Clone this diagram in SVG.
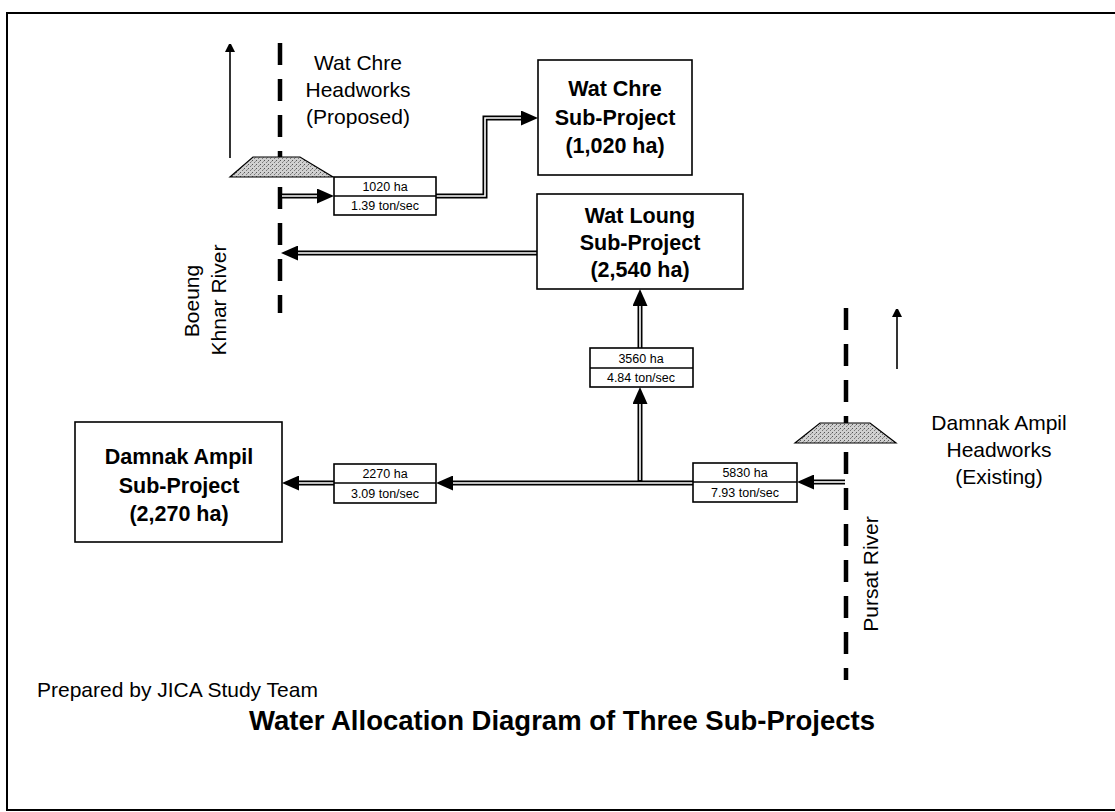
<svg xmlns="http://www.w3.org/2000/svg" width="1115" height="812" viewBox="0 0 1115 812">
<style>
.lbl{font-family:"Liberation Sans",Arial,sans-serif;font-size:21px;fill:#000}
.bold{font-family:"Liberation Sans",Arial,sans-serif;font-size:21.5px;font-weight:bold;fill:#000}
.small{font-family:"Liberation Sans",Arial,sans-serif;font-size:12.5px;fill:#000}
.box{fill:#fff;stroke:#000;stroke-width:1.6}
.river{stroke:#000;stroke-width:4.5;stroke-dasharray:22 14;fill:none}
.outer{fill:none;stroke:#000;stroke-width:5;stroke-linejoin:miter}
.inner{fill:none;stroke:#fff;stroke-width:1.6;stroke-linejoin:miter}
.dam{fill:url(#stipple);stroke:#000;stroke-width:1.2}
.north{stroke:#000;stroke-width:1.6;fill:none}
</style>
<defs>
<pattern id="stipple" width="4" height="4" patternUnits="userSpaceOnUse">
<rect width="4" height="4" fill="#d0d0d0"/>
<rect x="0" y="0" width="1" height="1" fill="#555"/>
<rect x="2" y="2" width="1" height="1" fill="#777"/>
<rect x="3" y="1" width="1" height="1" fill="#999"/>
</pattern>
<marker id="head" viewBox="0 0 17 15" refX="0" refY="7.5" markerWidth="17" markerHeight="15" markerUnits="userSpaceOnUse" orient="auto">
<path d="M0,0 L17,7.5 L0,15 z" fill="#000"/>
</marker>
<marker id="nhead" viewBox="0 0 8 10" refX="0" refY="5" markerWidth="8" markerHeight="10" markerUnits="userSpaceOnUse" orient="auto">
<path d="M0,0 L10,5 L0,10 z" fill="#000"/>
</marker>
</defs>
<rect width="1115" height="812" fill="#fff"/>
<rect x="7" y="13" width="1120" height="797" fill="none" stroke="#000" stroke-width="2"/>

<g id="boeung-khnar-river">
<line class="river" x1="280" y1="43" x2="280" y2="313"/>
<line class="north" x1="230" y1="158" x2="230" y2="52" marker-end="url(#nhead)"/>
<text class="lbl" text-anchor="middle" transform="translate(199,301) rotate(-90)">Boeung</text>
<text class="lbl" text-anchor="middle" transform="translate(226,300) rotate(-90)">Khnar River</text>
</g>

<g id="pursat-river">
<line class="river" x1="846" y1="308" x2="846" y2="680"/>
<line class="north" x1="897" y1="369" x2="897" y2="317" marker-end="url(#nhead)"/>
<text class="lbl" text-anchor="middle" transform="translate(878,574) rotate(-90)">Pursat River</text>
</g>

<g id="wat-chre-headworks">
<polygon class="dam" points="253,157 300,157 333,177 230,177"/>
<text class="lbl" text-anchor="middle" x="358" y="70">Wat Chre</text>
<text class="lbl" text-anchor="middle" x="358" y="97">Headworks</text>
<text class="lbl" text-anchor="middle" x="358" y="124">(Proposed)</text>
</g>

<g id="damnak-ampil-headworks">
<polygon class="dam" points="820,423 870,423 896,443 795,443"/>
<text class="lbl" text-anchor="middle" x="999" y="430">Damnak Ampil</text>
<text class="lbl" text-anchor="middle" x="999" y="457">Headworks</text>
<text class="lbl" text-anchor="middle" x="999" y="484">(Existing)</text>
</g>

<g id="connectors">
<path class="outer" d="M282,196 H317" marker-end="url(#head)"/>
<path class="inner" d="M282,196 H317"/>
<path class="outer" d="M436,196 H485 V118 H521" marker-end="url(#head)"/>
<path class="inner" d="M436,196 H485 V118 H521"/>
<path class="outer" d="M537,253 H298" marker-end="url(#head)"/>
<path class="inner" d="M537,253 H298"/>
<path class="outer" d="M845,482 H814" marker-end="url(#head)"/>
<path class="inner" d="M845,482 H814"/>
<path class="outer" d="M693,483 H453" marker-end="url(#head)"/>
<path class="inner" d="M693,483 H453"/>
<path class="outer" d="M334,483 H299" marker-end="url(#head)"/>
<path class="inner" d="M334,483 H299"/>
<path class="outer" d="M640,481 V404" marker-end="url(#head)"/>
<path class="inner" d="M640,480 V404"/>
<path class="outer" d="M640,348 V306" marker-end="url(#head)"/>
<path class="inner" d="M640,348 V306"/>
</g>

<g id="flow-wat-chre">
<rect class="box" x="334" y="177" width="102" height="38"/>
<line x1="334" y1="196" x2="436" y2="196" stroke="#000" stroke-width="1.4"/>
<text class="small" text-anchor="middle" x="385" y="191">1020 ha</text>
<text class="small" text-anchor="middle" x="385" y="210">1.39 ton/sec</text>
</g>

<g id="flow-wat-loung">
<rect class="box" x="590" y="348" width="103" height="39"/>
<line x1="590" y1="368" x2="693" y2="368" stroke="#000" stroke-width="1.4"/>
<text class="small" text-anchor="middle" x="641" y="363">3560 ha</text>
<text class="small" text-anchor="middle" x="641" y="382">4.84 ton/sec</text>
</g>

<g id="flow-damnak-intake">
<rect class="box" x="693" y="463" width="104" height="39"/>
<line x1="693" y1="482" x2="797" y2="482" stroke="#000" stroke-width="1.4"/>
<text class="small" text-anchor="middle" x="745" y="477">5830 ha</text>
<text class="small" text-anchor="middle" x="745" y="497">7.93 ton/sec</text>
</g>

<g id="flow-damnak-ampil">
<rect class="box" x="334" y="464" width="102" height="39"/>
<line x1="334" y1="483" x2="436" y2="483" stroke="#000" stroke-width="1.4"/>
<text class="small" text-anchor="middle" x="385" y="478">2270 ha</text>
<text class="small" text-anchor="middle" x="385" y="498">3.09 ton/sec</text>
</g>

<g id="wat-chre-sub-project">
<rect class="box" x="538" y="60" width="154" height="115"/>
<text class="bold" text-anchor="middle" x="615" y="96">Wat Chre</text>
<text class="bold" text-anchor="middle" x="615" y="125">Sub-Project</text>
<text class="bold" text-anchor="middle" x="615" y="153">(1,020 ha)</text>
</g>

<g id="wat-loung-sub-project">
<rect class="box" x="537" y="194" width="206" height="95"/>
<text class="bold" text-anchor="middle" x="640" y="223">Wat Loung</text>
<text class="bold" text-anchor="middle" x="640" y="250">Sub-Project</text>
<text class="bold" text-anchor="middle" x="640" y="277">(2,540 ha)</text>
</g>

<g id="damnak-ampil-sub-project">
<rect class="box" x="75" y="422" width="207" height="120"/>
<text class="bold" text-anchor="middle" x="179" y="464">Damnak Ampil</text>
<text class="bold" text-anchor="middle" x="179" y="493">Sub-Project</text>
<text class="bold" text-anchor="middle" x="179" y="521">(2,270 ha)</text>
</g>

<g id="captions">
<text class="lbl" x="37" y="697">Prepared by JICA Study Team</text>
<text class="bold" text-anchor="middle" x="562" y="730" style="font-size:27.5px">Water Allocation Diagram of Three Sub-Projects</text>
</g>
</svg>
